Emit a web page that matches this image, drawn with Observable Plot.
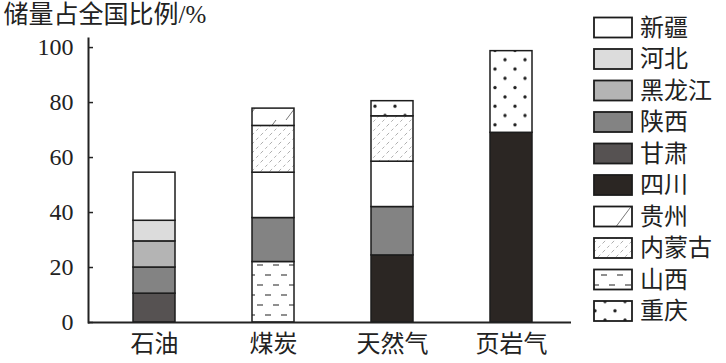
<!DOCTYPE html>
<html>
<head>
<meta charset="utf-8">
<script src="https://cdn.jsdelivr.net/npm/d3@7"></script>
<script src="https://cdn.jsdelivr.net/npm/@observablehq/plot@0.6"></script>
<style>
  body { margin: 0; background: #fff; }
  #chart { width: 726px; height: 363px; }
</style>
</head>
<body>
<div id="chart"></div>
<script>
// ---- data ----
const categories = ["石油", "煤炭", "天然气", "页岩气"];
const regions = ["新疆", "河北", "黑龙江", "陕西", "甘肃", "四川", "贵州", "内蒙古", "山西", "重庆"];

const oilRegions = ["甘肃", "陕西", "黑龙江", "河北", "新疆"];
const oilValues = [10.5, 9.5, 9.5, 7.5, 17.5];

const coalRegions = ["山西", "陕西", "新疆", "内蒙古", "贵州"];
const coalValues = [22, 16, 16.5, 17, 6.3];

const gasRegions = ["四川", "陕西", "新疆", "内蒙古", "重庆"];
const gasValues = [24.4, 17.6, 16.5, 16.5, 5.5];

const shaleRegions = ["四川", "重庆"];
const shaleValues = [69, 29.7];

const yTicks = [0, 20, 40, 60, 80, 100];
const yTitle = "储量占全国比例/%";

// ---- styles (not data) ----
const fills = {
  "新疆": "#ffffff",
  "河北": "#dcdcdc",
  "黑龙江": "#b4b4b4",
  "陕西": "#838383",
  "甘肃": "#565252",
  "四川": "#2b2623",
  "贵州": "url(#p-gz)",
  "内蒙古": "url(#p-nmg)",
  "山西": "url(#p-sx)",
  "重庆": "url(#p-cq)"
};

const groups = [
  [categories[0], oilRegions, oilValues],
  [categories[1], coalRegions, coalValues],
  [categories[2], gasRegions, gasValues],
  [categories[3], shaleRegions, shaleValues]
];
const rows = groups.flatMap(([cat, rs, vs]) => rs.map((r, i) => ({cat, region: r, value: vs[i]})));

const FONT = '"Liberation Serif", "Noto Sans CJK SC", serif';
const INK = "#222";

const plot = Plot.plot({
  width: 726,
  height: 363,
  marginLeft: 88,
  marginRight: 155,
  marginTop: 38,
  marginBottom: 41,
  style: {fontFamily: FONT, color: INK, background: "#fff"},
  x: {domain: categories, paddingInner: 0.65, paddingOuter: 0.3425, align: 0.53, label: null},
  y: {domain: [0, 103.3], label: null},
  color: {type: "identity"},
  marks: [
    Plot.barY(rows, Plot.stackY({
      x: "cat", y: "value", z: "region", order: null,
      fill: d => fills[d.region],
      stroke: "#1c1c1c", strokeWidth: 1.5
    })),
    Plot.frame({anchor: "left", stroke: INK, strokeWidth: 2}),
    Plot.ruleY([0], {stroke: INK, strokeWidth: 2}),
    Plot.axisY(yTicks, {tickSize: 5, dx: 5, tickFormat: () => "", stroke: INK, strokeWidth: 1.5, label: null}),
    Plot.axisY(yTicks, {tickSize: 0, tickPadding: 15, fontSize: 24, label: null, fill: INK}),
    Plot.axisX({tickSize: 0, tickPadding: 12, fontSize: 24, label: null, fill: INK}),
    Plot.text([yTitle], {frameAnchor: "top-left", dx: -85, dy: -33, textAnchor: "start", lineAnchor: "top", fontSize: 25, fill: INK})
  ]
});

// patterns + legend
const svg = d3.select(plot);
const defs = svg.insert("defs", ":first-child");

// 贵州: sparse single diagonal line
const gz = defs.append("pattern").attr("id", "p-gz").attr("patternUnits", "userSpaceOnUse")
  .attr("width", 40).attr("height", 40);
gz.append("rect").attr("width", 40).attr("height", 40).attr("fill", "#fff");
gz.append("line").attr("x1", 6).attr("y1", 40).attr("x2", 36).attr("y2", 0)
  .attr("stroke", "#666").attr("stroke-width", 0.9);

// 内蒙古: light dashed diagonals
const nmg = defs.append("pattern").attr("id", "p-nmg").attr("patternUnits", "userSpaceOnUse")
  .attr("width", 9).attr("height", 9);
nmg.append("rect").attr("width", 9).attr("height", 9).attr("fill", "#fff");
nmg.append("line").attr("x1", 0).attr("y1", 9).attr("x2", 9).attr("y2", 0)
  .attr("stroke", "#9a9a9a").attr("stroke-width", 0.8).attr("stroke-dasharray", "3,3");

// 山西: horizontal short dashes, staggered
const sx = defs.append("pattern").attr("id", "p-sx").attr("patternUnits", "userSpaceOnUse")
  .attr("width", 16).attr("height", 20);
sx.append("rect").attr("width", 16).attr("height", 20).attr("fill", "#fff");
sx.append("line").attr("x1", 1).attr("y1", 5).attr("x2", 7).attr("y2", 5)
  .attr("stroke", "#444").attr("stroke-width", 1.2);
sx.append("line").attr("x1", 9).attr("y1", 15).attr("x2", 15).attr("y2", 15)
  .attr("stroke", "#444").attr("stroke-width", 1.2);

// 重庆: dots
const cq = defs.append("pattern").attr("id", "p-cq").attr("patternUnits", "userSpaceOnUse")
  .attr("width", 20).attr("height", 18.6);
cq.append("rect").attr("width", 20).attr("height", 18.6).attr("fill", "#fff");
cq.append("circle").attr("cx", 5).attr("cy", 4).attr("r", 1.7).attr("fill", "#222");
cq.append("circle").attr("cx", 15).attr("cy", 13.3).attr("r", 1.7).attr("fill", "#222");

const lg = svg.append("g").attr("font-family", FONT).attr("font-size", 24)
  .attr("fill", INK).attr("text-anchor", "start");
regions.forEach((r, i) => {
  const y = 17.5 + i * 31.5;
  lg.append("rect").attr("x", 594).attr("y", y).attr("width", 38).attr("height", 20)
    .attr("fill", fills[r]).attr("stroke", "#1c1c1c").attr("stroke-width", 1.8);
  lg.append("text").attr("x", 640).attr("y", y + 10).attr("dy", "0.35em")
    .attr("text-anchor", "start").text(r);
});

document.getElementById("chart").appendChild(plot);
</script>
</body>
</html>
